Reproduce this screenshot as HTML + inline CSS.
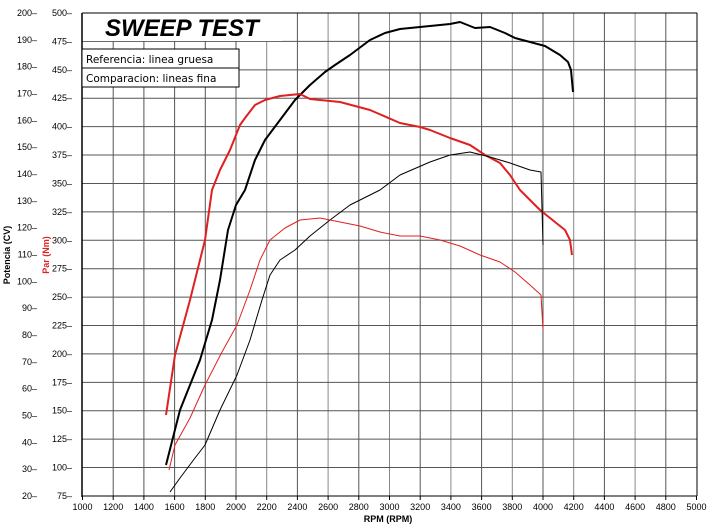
<!DOCTYPE html><html><head><style>body{margin:0;background:#fff}svg{display:block;font-family:"Liberation Sans",sans-serif}</style></head><body>
<svg width="714" height="526" xmlns="http://www.w3.org/2000/svg">
<rect width="714" height="526" fill="#fff"/>
<g id="grid" stroke="#555" stroke-width="1"></g>
<g id="lbl" font-size="9" fill="#000"></g>
<rect x="82" y="13" width="200" height="28" fill="#fff"/>
<line x1="82" y1="13" x2="82" y2="497" stroke="#000" stroke-width="1.5"/>
<line x1="82" y1="496" x2="697" y2="496" stroke="#000" stroke-width="1"/>
<line x1="82" y1="13" x2="697" y2="13" stroke="#000"/>
<line x1="697" y1="13" x2="697" y2="496" stroke="#000"/>
<text x="105" y="36" font-size="24" font-weight="bold" font-style="italic">SWEEP TEST</text>
<rect x="82" y="49" width="157" height="19" fill="#fff" stroke="#000"/>
<rect x="82" y="68" width="157" height="19" fill="#fff" stroke="#000"/>
<text x="86" y="63" font-size="10.5" font-family="DejaVu Sans">Referencia: linea gruesa</text>
<text x="86" y="82" font-size="10.5" font-family="DejaVu Sans">Comparacion: lineas fina</text>
<g fill="none" stroke-linejoin="round">
<polyline stroke="#000" stroke-width="2" points="166,465 180,410 200,360 212,320 220,280 228,230 236,205 245,190 255,160 265,140 280,120 295,100 310,85 325,72 335,65 350,55 370,40 385,33 400,29 420,27 440,25 450,24 460,22 475,28 490,27 505,33 515,38 530,42 545,46 560,55 568,62 571,70 573,92"/>
<polyline stroke="#e02020" stroke-width="2" points="166,415 175,355 190,300 205,240 212,190 220,170 230,150 240,125 245,118 255,105 265,100 280,96 300,94 310,99 340,102 370,110 400,123 420,127 430,130 450,138 470,145 485,155 500,163 510,175 520,190 530,200 540,210 550,218 565,230 570,240 572,255"/>
<polyline stroke="#000" stroke-width="1" points="170,492 180,478 195,458 205,445 220,410 237,375 250,340 262,300 270,275 280,260 295,250 310,236 330,220 350,205 380,190 400,175 430,162 450,155 470,152 490,157 510,163 530,170 541,172 543,245"/>
<polyline stroke="#e02020" stroke-width="1" points="169,470 175,445 190,418 205,385 222,352 237,325 250,290 260,260 270,240 285,228 300,220 320,218 340,222 360,226 380,232 400,236 420,236 440,240 460,246 480,255 500,262 515,272 530,285 541,295 543,330"/>
</g>
<text transform="translate(10,255) rotate(-90)" font-size="9" font-weight="bold" text-anchor="middle">Potencia (CV)</text>
<text transform="translate(49,255) rotate(-90)" font-size="9" font-weight="bold" fill="#e02020" text-anchor="middle">Par (Nm)</text>
<text x="388" y="522" font-size="9" font-weight="bold" text-anchor="middle">RPM (RPM)</text>
<script>
var g=document.getElementById('grid'),l=document.getElementById('lbl'),ns='http://www.w3.org/2000/svg';
function mk(p,t,a){var e=document.createElementNS(ns,t);for(var k in a)e.setAttribute(k,a[k]);p.appendChild(e);return e;}
for(var i=1;i<20;i++){var x=82.5+i*30.7;mk(g,'line',{x1:x,y1:13,x2:x,y2:496,stroke:(i%2==0&&i>5?'#888':'#555')});}
for(var j=0;j<=17;j++){var y=13+j*28.41;if(j>0&&j<17)mk(g,'line',{x1:82,y1:y,x2:697,y2:y});
var t=mk(l,'text',{x:72,y:y+3,'text-anchor':'end'});t.textContent=(500-25*j)+'\u2013';}
for(var j=0;j<=18;j++){var y=13+j*26.83;var t=mk(l,'text',{x:37,y:y+3,'text-anchor':'end'});t.textContent=(200-10*j)+'\u2013';}
for(var i=0;i<=20;i++){var x=82.5+i*30.7;mk(g,'line',{x1:x,y1:496,x2:x,y2:500,stroke:'#000'});var t=mk(l,'text',{x:x,y:510,'text-anchor':'middle'});t.textContent=1000+200*i;}
</script>
</svg></body></html>
